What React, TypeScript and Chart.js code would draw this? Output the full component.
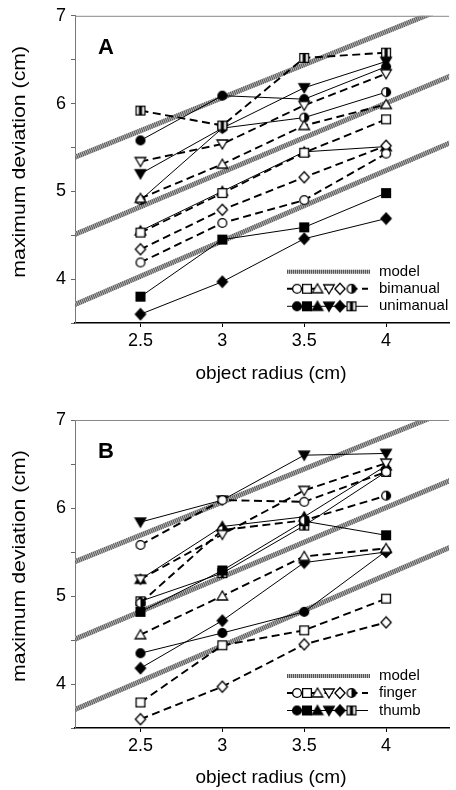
import React, { useEffect, useRef } from 'react';
import { Chart, registerables } from 'chart.js';

Chart.register(...registerables);

// ---------- data ----------
const radii = [2.5, 3, 3.5, 4];
const xTickValues = [2.5, 3, 3.5, 4];
const yTickValues = [3.5, 4, 4.5, 5, 5.5, 6, 6.5, 7];
const xMin = 2.1;
const xMax = 4.385;
const yMin = 3.5;
const yMax = 7;

const modelX = [2.1, 4.4];
const modelUpper = [5.39, 7.12];
const modelMiddle = [4.51, 6.32];
const modelLower = [3.71, 5.56];

// Panel A — bimanual (open symbols, dashed)
const aBiCircle = [4.19, 4.64, 4.9, 5.43];
const aBiSquare = [4.53, 4.98, 5.44, 5.82];
const aBiTriangle = [4.92, 5.31, 5.75, 5.99];
const aBiDown = [5.34, 5.54, 5.98, 6.34];
const aBiDiamond = [4.34, 4.79, 5.16, 5.52];
const aBiHalfSquare = [5.92, 5.75, 6.52, 6.58];
// Panel A — unimanual (filled symbols, solid)
const aUniCircle = [5.58, 6.09, 6.05, 6.42];
const aUniSquare = [3.8, 4.45, 4.59, 4.98];
const aUniTriangle = [4.55, 5.0, 5.45, 5.51];
const aUniDown = [5.2, 5.72, 6.18, 6.48];
const aUniDiamond = [3.6, 3.97, 4.46, 4.69];
const aUniHalfCircle = [4.9, 5.72, 5.84, 6.13];

// Panel B — finger (open symbols, dashed)
const bFingerCircle = [5.58, 6.09, 6.07, 6.41];
const bFingerSquare = [3.79, 4.44, 4.61, 4.97];
const bFingerTriangle = [4.56, 5.0, 5.45, 5.54];
const bFingerDown = [5.19, 5.7, 6.2, 6.51];
const bFingerDiamond = [3.6, 3.97, 4.45, 4.7];
const bFingerHalfCircle = [4.92, 5.75, 5.86, 6.14];
// Panel B — thumb (filled symbols, solid)
const bThumbCircle = [4.35, 4.58, 4.82, 5.51];
const bThumbSquare = [4.82, 5.29, 5.85, 5.69];
const bThumbTriangle = [5.19, 5.79, 5.9, 6.48];
const bThumbDown = [5.84, 6.09, 6.6, 6.62];
const bThumbDiamond = [4.18, 4.72, 5.38, 5.5];
const bThumbHalfSquare = [4.94, 5.26, 5.8, 6.41];

const legendA = ['model', 'bimanual', 'unimanual'];
const legendB = ['model', 'finger', 'thumb'];

// ---------- styling ----------
const FONT = '"Liberation Sans", Arial, Helvetica, sans-serif';

type Shape = 'circle' | 'square' | 'triangle' | 'down' | 'diamond' | 'halfCircle' | 'halfSquare';

const markerCache: Record<string, HTMLCanvasElement> = {};
function makeMarker(shape: Shape, filled: boolean): HTMLCanvasElement {
  const key = shape + (filled ? 'f' : 'o');
  if (markerCache[key]) return markerCache[key];
  const s = 14;
  const c = document.createElement('canvas');
  c.width = s;
  c.height = s;
  const ctx = c.getContext('2d')!;
  const m = s / 2;
  ctx.lineWidth = 1.3;
  ctx.strokeStyle = '#000';
  ctx.fillStyle = filled ? '#000' : '#fff';
  ctx.beginPath();
  if (shape === 'circle') {
    ctx.arc(m, m, 4.4, 0, Math.PI * 2);
  } else if (shape === 'square') {
    ctx.rect(m - 4.4, m - 4.4, 8.8, 8.8);
  } else if (shape === 'triangle') {
    ctx.moveTo(m, m - 5);
    ctx.lineTo(m + 5.3, m + 4);
    ctx.lineTo(m - 5.3, m + 4);
    ctx.closePath();
  } else if (shape === 'down') {
    ctx.moveTo(m, m + 5);
    ctx.lineTo(m + 5.3, m - 4);
    ctx.lineTo(m - 5.3, m - 4);
    ctx.closePath();
  } else if (shape === 'diamond') {
    ctx.moveTo(m, m - 5.5);
    ctx.lineTo(m + 5.1, m);
    ctx.lineTo(m, m + 5.5);
    ctx.lineTo(m - 5.1, m);
    ctx.closePath();
  } else if (shape === 'halfCircle') {
    ctx.fillStyle = '#fff';
    ctx.arc(m, m, 4.4, 0, Math.PI * 2);
    ctx.fill();
    ctx.beginPath();
    ctx.fillStyle = '#000';
    ctx.arc(m, m, 4.4, -Math.PI / 2, Math.PI / 2);
    ctx.closePath();
    ctx.fill();
    ctx.beginPath();
    ctx.arc(m, m, 4.4, 0, Math.PI * 2);
    ctx.stroke();
    markerCache[key] = c;
    return c;
  } else if (shape === 'halfSquare') {
    ctx.fillStyle = '#fff';
    ctx.rect(m - 4.4, m - 4.4, 8.8, 8.8);
    ctx.fill();
    ctx.fillStyle = '#000';
    ctx.fillRect(m - 1.6, m - 4.4, 3.2, 8.8);
    ctx.stroke();
    markerCache[key] = c;
    return c;
  }
  ctx.fill();
  ctx.stroke();
  markerCache[key] = c;
  return c;
}

type SeriesDef = { values: number[]; shape: Shape; filled: boolean; dashed: boolean };

const panelASeries: SeriesDef[] = [
  { values: aBiCircle, shape: 'circle', filled: false, dashed: true },
  { values: aBiSquare, shape: 'square', filled: false, dashed: true },
  { values: aBiTriangle, shape: 'triangle', filled: false, dashed: true },
  { values: aBiDown, shape: 'down', filled: false, dashed: true },
  { values: aBiDiamond, shape: 'diamond', filled: false, dashed: true },
  { values: aBiHalfSquare, shape: 'halfSquare', filled: false, dashed: true },
  { values: aUniCircle, shape: 'circle', filled: true, dashed: false },
  { values: aUniSquare, shape: 'square', filled: true, dashed: false },
  { values: aUniTriangle, shape: 'triangle', filled: true, dashed: false },
  { values: aUniDown, shape: 'down', filled: true, dashed: false },
  { values: aUniDiamond, shape: 'diamond', filled: true, dashed: false },
  { values: aUniHalfCircle, shape: 'halfCircle', filled: true, dashed: false },
];

const panelBSeries: SeriesDef[] = [
  { values: bFingerCircle, shape: 'circle', filled: false, dashed: true },
  { values: bFingerSquare, shape: 'square', filled: false, dashed: true },
  { values: bFingerTriangle, shape: 'triangle', filled: false, dashed: true },
  { values: bFingerDown, shape: 'down', filled: false, dashed: true },
  { values: bFingerDiamond, shape: 'diamond', filled: false, dashed: true },
  { values: bFingerHalfCircle, shape: 'halfCircle', filled: false, dashed: true },
  { values: bThumbCircle, shape: 'circle', filled: true, dashed: false },
  { values: bThumbSquare, shape: 'square', filled: true, dashed: false },
  { values: bThumbTriangle, shape: 'triangle', filled: true, dashed: false },
  { values: bThumbDown, shape: 'down', filled: true, dashed: false },
  { values: bThumbDiamond, shape: 'diamond', filled: true, dashed: false },
  { values: bThumbHalfSquare, shape: 'halfSquare', filled: true, dashed: false },
];

const legendOpenShapes: Shape[] = ['circle', 'square', 'triangle', 'down', 'diamond', 'halfCircle'];
const legendFilledShapes: Shape[] = ['circle', 'square', 'triangle', 'down', 'diamond', 'halfSquare'];

const HATCH_BASE = '#b8b8b8';
const HATCH_DARK = '#555555';
const DASH = [8, 4.5];

function modelDatasets(ys: number[]) {
  const data = modelX.map((x, i) => ({ x, y: ys[i] }));
  return [
    {
      data,
      borderColor: HATCH_DARK,
      borderWidth: 5,
      borderDash: [1, 1],
      pointRadius: 0,
      clip: 0,
      order: 20,
      tension: 0,
    },
    {
      data,
      borderColor: HATCH_BASE,
      borderWidth: 5,
      pointRadius: 0,
      clip: 0,
      order: 21,
      tension: 0,
    },
  ];
}

type PanelProps = {
  letter: string;
  series: SeriesDef[];
  legend: string[];
  topPad: number;
  axisHeight: number;
};

function drawHatchLine(ctx: CanvasRenderingContext2D, x0: number, y0: number, x1: number, y1: number) {
  ctx.save();
  ctx.lineWidth = 4;
  ctx.strokeStyle = HATCH_BASE;
  ctx.beginPath();
  ctx.moveTo(x0, y0);
  ctx.lineTo(x1, y1);
  ctx.stroke();
  ctx.strokeStyle = HATCH_DARK;
  ctx.setLineDash([1, 1]);
  ctx.beginPath();
  ctx.moveTo(x0, y0);
  ctx.lineTo(x1, y1);
  ctx.stroke();
  ctx.restore();
}

function Panel({ letter, series, legend, topPad, axisHeight }: PanelProps) {
  const ref = useRef<HTMLCanvasElement | null>(null);

  useEffect(() => {
    const canvas = ref.current;
    if (!canvas) return;

    const dataSets: any[] = series.map((s) => ({
      data: radii.map((x, i) => ({ x, y: s.values[i] })),
      borderColor: '#000',
      borderWidth: s.dashed ? 1.9 : 1,
      borderDash: s.dashed ? DASH : [],
      pointStyle: makeMarker(s.shape, s.filled),
      pointRadius: 5,
      order: 1,
      tension: 0,
      clip: false,
    }));
    dataSets.push(...modelDatasets(modelUpper), ...modelDatasets(modelMiddle), ...modelDatasets(modelLower));

    const decor = {
      id: 'decor' + letter,
      afterDraw(chart: any) {
        const ctx: CanvasRenderingContext2D = chart.ctx;
        const a = chart.chartArea;
        ctx.save();
        // top frame
        ctx.strokeStyle = '#888';
        ctx.lineWidth = 1;
        ctx.beginPath();
        ctx.moveTo(a.left, a.top + 0.5);
        ctx.lineTo(a.right, a.top + 0.5);
        ctx.stroke();
        // panel letter
        ctx.fillStyle = '#000';
        ctx.font = `bold 22px ${FONT}`;
        ctx.textAlign = 'center';
        ctx.textBaseline = 'middle';
        ctx.fillText(letter, 106, a.top + 32);
        // x title
        ctx.font = `19px ${FONT}`;
        ctx.fillText('object radius (cm)', 271, a.top + 358);
        // y title
        ctx.save();
        ctx.translate(20, a.top + 146);
        ctx.rotate(-Math.PI / 2);
        ctx.scale(1.12, 1);
        ctx.font = `19px ${FONT}`;
        ctx.fillText('maximum deviation (cm)', 0, 0);
        ctx.restore();
        // legend
        const rows = [a.top + 256, a.top + 273, a.top + 290.5];
        const lx0 = 287;
        const lx1 = 370;
        drawHatchLine(ctx, lx0, rows[0], lx1, rows[0]);
        const markerX = [297, 307, 317.5, 329, 340, 351.5];
        // dashed row
        ctx.strokeStyle = '#000';
        ctx.lineWidth = 1.9;
        ctx.setLineDash(DASH);
        ctx.beginPath();
        ctx.moveTo(lx0, rows[1]);
        ctx.lineTo(lx1 - 2, rows[1]);
        ctx.stroke();
        ctx.setLineDash([]);
        legendOpenShapes.forEach((sh, i) => {
          const img = makeMarker(sh, false);
          ctx.drawImage(img, markerX[i] - img.width / 2, rows[1] - img.height / 2);
        });
        // solid row
        ctx.lineWidth = 1;
        ctx.beginPath();
        ctx.moveTo(lx0, rows[2]);
        ctx.lineTo(lx1 - 2, rows[2]);
        ctx.stroke();
        legendFilledShapes.forEach((sh, i) => {
          const img = makeMarker(sh, true);
          ctx.drawImage(img, markerX[i] - img.width / 2, rows[2] - img.height / 2);
        });
        ctx.font = `15px ${FONT}`;
        ctx.textAlign = 'left';
        ctx.fillStyle = '#000';
        legend.forEach((t, i) => ctx.fillText(t, 379, rows[i]));
        ctx.restore();
      },
    };

    const chart = new Chart(canvas, {
      type: 'line',
      data: { datasets: dataSets },
      plugins: [decor],
      options: {
        animation: false,
        responsive: false,
        devicePixelRatio: 1,
        layout: { padding: { top: topPad, left: 0, right: 0, bottom: 0 } },
        plugins: { legend: { display: false }, tooltip: { enabled: false } },
        scales: {
          x: {
            type: 'linear',
            min: xMin,
            max: xMax,
            afterBuildTicks: (s: any) => {
              s.ticks = xTickValues.map((v) => ({ value: v }));
            },
            afterFit: (s: any) => {
              s.height = axisHeight;
            },
            ticks: {
              autoSkip: false,
              maxRotation: 0,
              padding: 3,
              color: '#000',
              font: { family: FONT, size: 18 },
              callback: (v: any) => String(v),
            },
            grid: { drawOnChartArea: false, drawTicks: true, tickLength: 4, color: '#000' },
            border: { display: true, color: '#000', width: 1.5 },
          },
          y: {
            type: 'linear',
            min: yMin,
            max: yMax,
            afterBuildTicks: (s: any) => {
              s.ticks = yTickValues.map((v) => ({ value: v }));
            },
            afterFit: (s: any) => {
              s.width = 75;
            },
            ticks: {
              autoSkip: false,
              padding: 5,
              color: '#000',
              font: { family: FONT, size: 18 },
              callback: (v: any) => (Number.isInteger(v) ? String(v) : ''),
            },
            grid: { drawOnChartArea: false, drawTicks: true, tickLength: 4, color: '#666' },
            border: { display: true, color: '#777', width: 1 },
          },
        },
      } as any,
    });
    return () => chart.destroy();
  }, []);

  return <canvas ref={ref} width={456} height={395} style={{ display: 'block', width: 456, height: 395 }} />;
}

export default function App() {
  useEffect(() => {
    document.body.style.margin = '0';
    document.body.style.background = '#fff';
  }, []);
  return (
    <div style={{ width: 456, height: 790, background: '#fff' }}>
      <Panel letter="A" series={panelASeries} legend={legendA} topPad={15} axisHeight={72} />
      <Panel letter="B" series={panelBSeries} legend={legendB} topPad={25} axisHeight={62} />
    </div>
  );
}
